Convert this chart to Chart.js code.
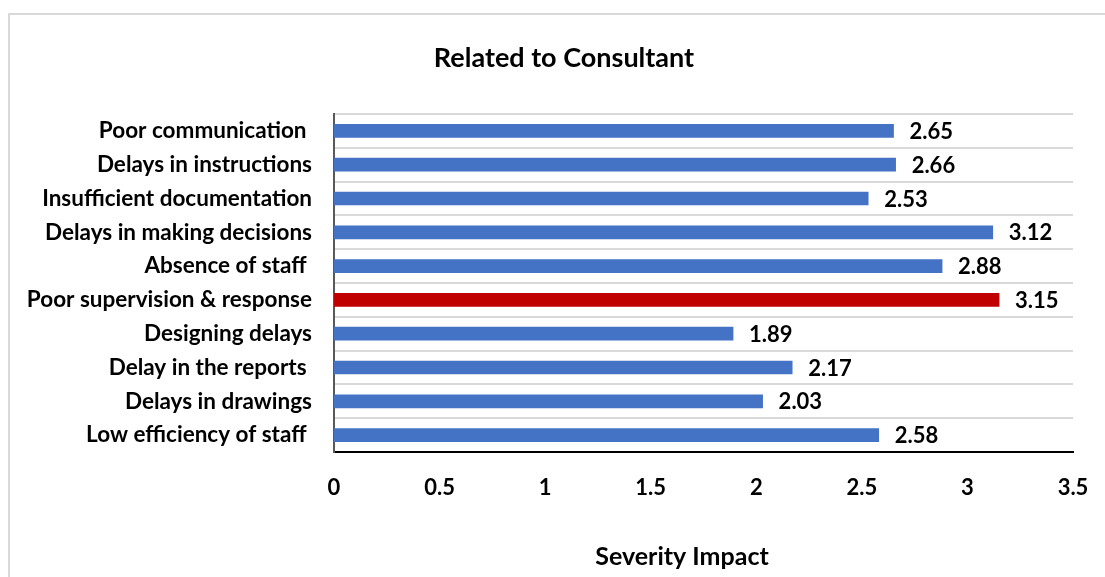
<!DOCTYPE html>
<html>
<head>
<meta charset="utf-8">
<script src="https://cdn.jsdelivr.net/npm/chart.js@4"></script>
<style>
  html, body { margin: 0; padding: 0; background: #fff; }
  #wrap { width: 1105px; height: 577px; }
</style>
</head>
<body>
<div id="wrap"><canvas id="myChart" width="1105" height="577"></canvas></div>
<script>
// chart data
var categories = [
  'Poor communication ',
  'Delays in instructions',
  'Insufficient documentation',
  'Delays in making decisions',
  'Absence of staff ',
  'Poor supervision & response',
  'Designing delays',
  'Delay in the reports ',
  'Delays in drawings',
  'Low efficiency of staff '
];
var severityValues = [2.65, 2.66, 2.53, 3.12, 2.88, 3.15, 1.89, 2.17, 2.03, 2.58];
var xTickMin = 0;
var xTickMax = 3.5;
var xTickStep = 0.5;

var chartTitle = 'Related to Consultant';
var xAxisTitle = 'Severity Impact';

var FONT = 'Lato, "Liberation Sans", sans-serif';
var maxValue = Math.max.apply(null, severityValues);

// outer frame + the two titles (excel puts them a bit off the plot centre)
var framePlugin = {
  id: 'frame',
  beforeDraw: function(chart) {
    var ctx = chart.ctx;
    ctx.save();
    ctx.fillStyle = '#fff';
    ctx.fillRect(0, 0, chart.width, chart.height);
    ctx.strokeStyle = '#D9D9D9';
    ctx.lineWidth = 2;
    ctx.beginPath();
    ctx.moveTo(9, chart.height + 2);
    ctx.lineTo(9, 14);
    ctx.lineTo(chart.width + 2, 14);
    ctx.stroke();

    ctx.fillStyle = '#000';
    ctx.textAlign = 'center';
    ctx.textBaseline = 'middle';
    ctx.font = 'bold 27px ' + FONT;
    ctx.fillText(chartTitle, 564, 58);
    ctx.font = 'bold 25px ' + FONT;
    ctx.fillText(xAxisTitle, 682, 557);
    ctx.restore();
  }
};

// value labels at the end of each bar
var valueLabels = {
  id: 'valueLabels',
  afterDatasetsDraw: function(chart) {
    var ctx = chart.ctx;
    var meta = chart.getDatasetMeta(0);
    ctx.save();
    ctx.font = 'bold 22px ' + FONT;
    ctx.fillStyle = '#000';
    ctx.textAlign = 'left';
    ctx.textBaseline = 'middle';
    meta.data.forEach(function(bar, i) {
      ctx.fillText(severityValues[i].toFixed(2), bar.x + 16, bar.y + 1);
    });
    ctx.restore();
  }
};

var ctx = document.getElementById('myChart').getContext('2d');
var myChart = new Chart(ctx, {
  type: 'bar',
  data: {
    labels: categories,
    datasets: [{
      data: severityValues,
      backgroundColor: function(c) {
        return c.raw === maxValue ? '#C00000' : '#4472C4';
      },
      barThickness: 13
    }]
  },
  options: {
    indexAxis: 'y',
    responsive: false,
    animation: false,
    layout: { padding: { left: 9, right: 32, top: 114, bottom: 0 } },
    plugins: {
      legend: { display: false },
      tooltip: { enabled: false },
      title: { display: false }
    },
    scales: {
      x: {
        min: xTickMin,
        max: xTickMax,
        ticks: {
          stepSize: xTickStep,
          color: '#000',
          padding: 23,
          font: { family: FONT, size: 22, weight: 'bold' },
          callback: function(v) { return String(v); }
        },
        grid: { display: false, drawTicks: false },
        border: { display: true, color: '#000', width: 2 },
        afterFit: function(scale) {
          scale.height = 125;
          scale.paddingLeft = 0;
          scale.paddingRight = 0;
        }
      },
      y: {
        ticks: {
          color: '#000',
          padding: 22,
          font: { family: FONT, size: 22.5, weight: 'bold' }
        },
        grid: { color: '#D9D9D9', lineWidth: 2, drawTicks: false },
        border: { display: true, color: '#595959', width: 2 },
        afterFit: function(scale) { scale.width = 325; }
      }
    }
  },
  plugins: [framePlugin, valueLabels]
});
</script>
</body>
</html>
